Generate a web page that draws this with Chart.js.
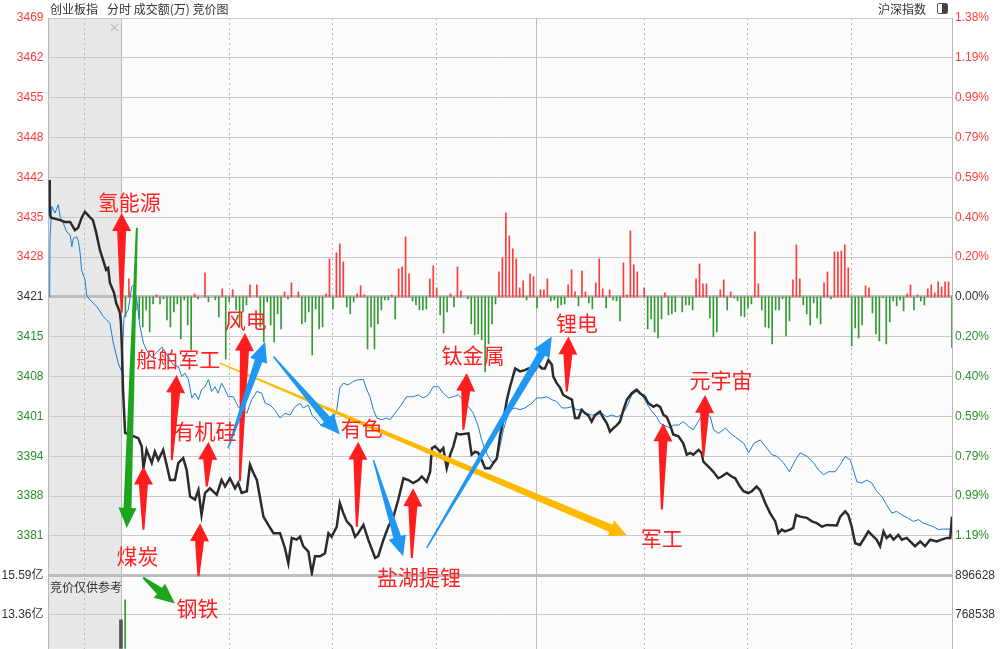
<!DOCTYPE html>
<html>
<head>
<meta charset="utf-8">
<title>创业板指 分时</title>
<script src="https://cdn.jsdelivr.net/npm/chart.js@4.4.0/dist/chart.umd.min.js"></script>
<style>
  body { margin: 0; background: #fff; overflow: hidden; }
  #wrap { position: relative; width: 1001px; height: 649px; overflow: hidden; font-family: "Noto Sans CJK SC", sans-serif; }
  #wrap canvas { position: absolute; left: 0; top: 0; }
  .lbl { position: absolute; font-size: 12px; line-height: 14px; color: #333; white-space: nowrap; }
  #toggle { position: absolute; left: 937px; top: 3px; width: 9px; height: 9px; border: 1px solid #555; border-radius: 2px; background: linear-gradient(to right, #fff 45%, #444 45%); }
</style>
</head>
<body>
<div id="wrap">
  <!-- canvas is 12px taller than the page: the axis label padding eats that much at the bottom -->
  <canvas id="chart" width="1001" height="661"></canvas>
  <div class="lbl" style="left:50px;top:2px">创业板指</div>
  <div class="lbl" style="left:107px;top:2px">分时 成交额(万) 竞价图</div>
  <div class="lbl" style="left:878px;top:2px">沪深指数</div>
  <div id="toggle"></div>
  <div class="lbl" style="left:50px;top:580px">竞价仅供参考</div>
  <div class="lbl" style="left:109px;top:20px;color:#aaa;font-size:11px">×</div>
</div>
<script>
"use strict";

// 昨收和纵轴范围
const prevClose = 3421.4;
const maxPct = 1.38;
const priceLabels = ['3469', '3462', '3455', '3448', '3442', '3435', '3428', '3421', '3415', '3408', '3401', '3394', '3388', '3381'];
const pctLabels = ['1.38%', '1.19%', '0.99%', '0.79%', '0.59%', '0.40%', '0.20%', '0.00%', '0.20%', '0.40%', '0.59%', '0.79%', '0.99%', '1.19%'];
const volValues = [15.59, 13.36];
const volLabels = ['15.59亿', '13.36亿'];
const volRValues = [896628, 768538];
const volRLabels = ['896628', '768538'];

// 分钟 (9:30 = 0, 竞价为负), 指数点位
const indexPts = [
  [-21, 3441.2], [-20.9, 3435.3], [-20.5, 3434.8], [-17.9, 3434.4], [-16.5, 3434.1], [-15, 3434.1], [-13.6, 3432.7], [-12.7, 3433.1],
  [-11.6, 3434.9], [-10.7, 3435.8], [-9.3, 3434.9], [-8.4, 3434.4], [-7.5, 3432.4], [-6.4, 3429.4], [-5.5, 3427.7], [-4.6, 3426.0],
  [-4, 3426.3], [-3.5, 3423.8], [-2.3, 3422.1], [-1.7, 3420.4], [-1.2, 3419.7], [-0.6, 3418.7], [-0.3, 3417.0], [0, 3412.4], [0.3, 3405.7],
  [0.9, 3398.4], [4.7, 3397.5], [5.7, 3396.1], [6.2, 3392.4], [7.1, 3395.5], [8.6, 3393.3], [9.5, 3395.2], [10.5, 3393.8], [11.9, 3395.5],
  [12.9, 3393.0], [13.9, 3390.4], [15.3, 3390.4], [16.3, 3393.3], [17.7, 3394.1], [18.7, 3392.1], [19.7, 3387.6], [21.1, 3387.1],
  [22.1, 3388.7], [23, 3384.5], [24, 3388.2], [25.4, 3389.0], [27.4, 3387.9], [28.8, 3390.4], [29.8, 3389.3], [31.2, 3390.7], [32.7, 3389.0],
  [33.6, 3389.9], [34.6, 3388.2], [36.1, 3388.5], [37, 3393.0], [38, 3391.6], [39, 3390.4], [40.9, 3384.2], [42.3, 3382.8], [43.8, 3381.4],
  [45.7, 3381.4], [47.1, 3378.9], [48.1, 3376.3], [49.1, 3380.6], [50.5, 3380.3], [51.5, 3380.8], [52.4, 3379.2], [53.9, 3378.3],
  [54.9, 3374.6], [55.8, 3377.5], [57.3, 3377.5], [58.7, 3378.0], [59.7, 3381.4], [60.6, 3380.8], [62.1, 3382.5], [63, 3386.5],
  [64, 3384.8], [65, 3383.4], [66.4, 3382.5], [67.4, 3380.8], [68.3, 3381.4], [69.8, 3382.8], [71.2, 3380.3], [73.2, 3377.2],
  [74.1, 3377.5], [75.6, 3380.3], [77, 3382.5], [78.5, 3384.2], [79.9, 3387.1], [81.4, 3390.7], [82.8, 3390.4], [84.2, 3389.9],
  [85.7, 3390.4], [86.7, 3391.0], [88.1, 3390.1], [89.1, 3391.8], [89.6, 3395.8], [90.5, 3396.1], [92, 3395.2], [92.9, 3395.8],
  [93.9, 3392.4], [94.9, 3394.7], [95.8, 3396.1], [96.8, 3398.3], [97.7, 3398.1], [100.2, 3398.3], [101.1, 3394.7], [102.1, 3395.2],
  [103, 3395.0], [104, 3393.8], [105, 3392.4], [106.4, 3392.4], [107.4, 3393.3], [108.4, 3394.1], [109.3, 3397.8], [110.3, 3400.6],
  [111.3, 3404.0], [112.2, 3406.2], [113.7, 3409.3], [115.1, 3408.8], [116.5, 3409.0], [117.5, 3409.3], [118.5, 3408.8], [119.4, 3409.0],
  [120.4, 3409.9], [121.4, 3409.3], [122.3, 3409.3], [123.3, 3410.7], [124.3, 3409.9], [124.7, 3407.9], [125.7, 3406.8], [126.7, 3406.0],
  [127.6, 3404.8], [129.1, 3404.3], [130.1, 3404.0], [130.5, 3402.6], [131, 3400.9], [132, 3400.9], [132.9, 3402.3], [133.9, 3401.7],
  [134.8, 3401.4], [135.8, 3400.3], [136.8, 3401.4], [138.2, 3402.0], [139.2, 3400.9], [140.2, 3400.0], [141.1, 3398.6], [142.1, 3399.2],
  [143.1, 3399.7], [144, 3400.3], [145, 3402.3], [146, 3404.0], [147.4, 3405.1], [148.8, 3405.7], [149.8, 3405.1], [151.2, 3404.5],
  [152.2, 3403.4], [153.7, 3402.8], [154.6, 3403.1], [155.6, 3402.8], [156.6, 3401.4], [157.5, 3401.1], [158.5, 3399.7], [159.4, 3398.1],
  [160.9, 3397.8], [162.3, 3396.6], [163.3, 3394.7], [164.3, 3395.0], [165.2, 3394.7], [166.7, 3395.5], [167.6, 3395.0], [168.1, 3393.5],
  [169.5, 3392.7], [171, 3391.8], [172.4, 3390.7], [173.4, 3391.0], [174.9, 3391.6], [176.3, 3391.0], [177.3, 3390.7], [178.7, 3389.3],
  [179.7, 3388.5], [181.1, 3388.2], [182.1, 3388.5], [183.5, 3389.3], [184.5, 3388.7], [186, 3386.5], [187.4, 3384.8], [188.9, 3383.4],
  [189.8, 3381.4], [190.8, 3382.0], [191.7, 3381.7], [193.2, 3382.0], [194.1, 3382.3], [194.9, 3384.5], [196.1, 3384.2], [198, 3384.0],
  [199.5, 3383.4], [200.9, 3383.1], [202.4, 3382.5], [203.8, 3382.8], [206.7, 3382.7], [207.7, 3384.2], [209.1, 3385.1], [210, 3384.5],
  [211, 3382.5], [212, 3379.7], [213.4, 3379.4], [214.9, 3380.8], [215.8, 3381.7], [216.8, 3381.1], [218.2, 3380.3], [219.2, 3379.2],
  [220.2, 3381.7], [221.1, 3380.6], [222.1, 3381.1], [223.1, 3380.3], [224.5, 3381.1], [225.5, 3380.3], [226.9, 3380.6], [227.9, 3380.0],
  [229.3, 3379.2], [230.8, 3380.0], [232.2, 3379.2], [233.7, 3380.3], [235.6, 3380.0], [237, 3380.3], [238.5, 3380.6], [239.5, 3380.6],
  [240, 3384.2]
];

// 沪深指数叠加 (按同一坐标折算)
const hsPts = [
  [-21, 3421.4], [-20.9, 3424.3], [-20.8, 3431.6], [-20.3, 3436.7], [-19.4, 3435.6], [-18.4, 3437.0], [-17.9, 3435.0], [-17, 3433.9],
  [-16, 3432.4], [-15, 3431.9], [-14.5, 3429.9], [-14.1, 3431.3], [-13.1, 3431.6], [-12.6, 3430.8], [-12.1, 3428.8], [-11.7, 3426.0],
  [-10.7, 3424.3], [-10.2, 3421.7], [-9.3, 3420.9], [-7.3, 3419.8], [-5.4, 3418.1], [-3.5, 3416.9], [-2.5, 3413.6], [-1.1, 3410.2],
  [-0.1, 3408.8], [0.6, 3418.1], [1.8, 3419.2], [2.8, 3423.1], [3.3, 3423.4], [4.3, 3420.9], [5.2, 3416.4], [6.2, 3413.6], [7.1, 3412.4],
  [8.7, 3411.1], [10.1, 3412.1], [11.6, 3412.9], [13.4, 3411.3], [14.8, 3409.9], [16.3, 3409.6], [17.3, 3407.9], [18.2, 3408.5],
  [19.2, 3407.4], [20.2, 3404.3], [21.1, 3405.1], [22.1, 3404.0], [23, 3405.7], [24, 3406.2], [25, 3407.4], [25.9, 3405.4], [26.9, 3406.2],
  [27.8, 3405.1], [28.8, 3406.8], [29.8, 3405.7], [30.7, 3404.5], [32.2, 3404.5], [33.6, 3402.8], [35.1, 3402.3], [36.1, 3401.7],
  [37.5, 3404.0], [39, 3405.4], [40.4, 3405.1], [41.4, 3403.4], [42.8, 3403.1], [44.2, 3402.3], [45.7, 3400.9], [47.1, 3401.7],
  [48.6, 3401.4], [50, 3402.8], [51.5, 3403.4], [52.4, 3402.6], [53.9, 3403.1], [54.9, 3401.4], [56.3, 3400.6], [57.8, 3399.5],
  [59.2, 3399.5], [60.6, 3400.0], [62.1, 3402.3], [63, 3406.0], [64, 3406.8], [65.4, 3406.5], [66.9, 3407.1], [68.3, 3407.4],
  [69.8, 3407.4], [70.8, 3405.7], [71.7, 3404.5], [72.7, 3402.3], [73.7, 3400.9], [75.1, 3400.6], [76.5, 3400.9], [77.5, 3400.6],
  [78.9, 3401.7], [80.4, 3402.8], [82.3, 3404.5], [84.2, 3404.5], [85.7, 3404.8], [87.1, 3404.3], [88.6, 3404.8], [90, 3406.2],
  [91.5, 3406.2], [92.9, 3405.1], [94.4, 3404.3], [95.8, 3404.5], [97.3, 3404.8], [98.7, 3404.0], [100.2, 3402.8], [101.6, 3401.7],
  [103, 3399.5], [104, 3397.2], [105, 3395.5], [105.9, 3394.4], [106.9, 3393.5], [108.4, 3393.8], [109.3, 3396.1], [110.3, 3398.9],
  [111.3, 3400.9], [112.2, 3402.3], [113.7, 3402.6], [115.1, 3402.3], [116.5, 3402.6], [118.5, 3403.4], [119.9, 3404.3], [121.4, 3404.3],
  [122.8, 3404.5], [124.3, 3404.0], [125.7, 3403.7], [127.2, 3402.6], [128.6, 3402.6], [130.1, 3402.8], [131.5, 3402.3], [132.9, 3402.3],
  [134.4, 3401.7], [135.8, 3401.4], [137.3, 3401.4], [138.7, 3401.7], [140.2, 3401.1], [141.6, 3401.4], [143.1, 3401.1], [144.5, 3401.4],
  [146, 3402.8], [147.4, 3404.8], [148.8, 3405.4], [150.3, 3404.8], [151.7, 3403.4], [153.2, 3402.0], [154.6, 3401.1], [155.6, 3400.0],
  [156.6, 3399.7], [158.5, 3399.2], [159.4, 3399.7], [160.9, 3399.7], [162.3, 3400.3], [163.8, 3399.5], [165.2, 3398.9], [167.2, 3400.9],
  [169.1, 3401.7], [170.1, 3401.1], [171.1, 3398.9], [172.5, 3398.3], [174.5, 3399.2], [175.9, 3398.3], [177.8, 3397.5], [179.8, 3396.6],
  [181.2, 3395.0], [182.7, 3396.6], [184.6, 3397.2], [186, 3396.1], [187.9, 3394.7], [189.4, 3394.4], [191.3, 3393.3], [193, 3391.8],
  [194.7, 3393.8], [196.1, 3395.0], [198.1, 3394.4], [200, 3393.3], [201.4, 3392.1], [202.9, 3391.3], [204.3, 3391.8], [206.2, 3391.8],
  [207.7, 3393.0], [209.1, 3394.4], [210.6, 3393.8], [211.5, 3392.1], [212.5, 3390.1], [213.9, 3389.9], [215.4, 3390.4], [216.8, 3389.9],
  [218.2, 3388.5], [219.7, 3387.6], [221.1, 3386.2], [222.6, 3384.8], [224, 3385.1], [225.5, 3384.5], [227.4, 3383.9], [228.8, 3383.4],
  [230.3, 3383.7], [231.7, 3383.1], [233.2, 3382.8], [234.6, 3382.5], [236.1, 3382.0], [237.5, 3382.1], [239.5, 3382.1]
];

// 每分钟红绿柱 [分钟, 值]
const diffBars = [
  [1, -20], [2, 18], [4, -13], [5, -22], [6, -30], [7, -13], [8, -35], [9, -7], [10, 2], [11, -7], [12, -2], [13, -23], [14, -30],
  [15, -15], [16, -7], [17, -42], [18, -3], [19, -28], [20, -53], [21, 3], [22, -2], [24, 24], [25, -5], [27, -3], [28, -20], [29, 8],
  [30, -62], [31, -5], [32, 7], [33, -13], [34, -30], [35, -15], [36, -8], [37, 12], [39, 12], [40, -30], [41, -45], [42, -5], [43, -28],
  [44, -45], [45, -17], [46, -32], [47, 5], [48, -2], [49, 14], [51, 5], [52, -27], [53, -25], [54, -15], [55, -58], [56, -12], [57, -32],
  [58, -30], [59, 3], [60, 38], [61, -12], [62, 44], [63, 53], [64, 35], [65, -10], [66, -17], [67, -5], [68, 3], [69, 11], [70, 2],
  [71, -52], [72, -30], [73, -52], [74, -27], [75, -13], [76, -3], [77, -3], [78, 2], [79, -22], [80, 28], [81, 30], [82, 60], [83, 23],
  [84, -4], [85, -8], [86, -13], [87, -13], [88, -12], [89, 18], [90, 31], [91, 9], [92, -18], [93, -36], [94, -15], [95, 3], [96, -10],
  [97, 30], [98, 6], [100, -2], [101, -27], [102, -38], [103, -37], [104, -43], [105, -75], [106, -47], [107, -27], [108, -7], [109, 25],
  [110, 39], [111, 84], [112, 61], [113, 48], [114, 38], [115, 9], [116, 16], [117, -3], [118, 23], [119, 20], [120, -11], [121, 7],
  [122, 7], [123, 18], [124, -4], [125, -3], [126, -11], [127, -8], [128, -7], [129, 12], [130, 27], [131, 5], [132, -9], [133, 26],
  [134, 5], [135, -6], [136, -12], [137, 14], [138, 38], [139, 8], [140, -11], [141, 7], [142, -3], [143, -4], [144, -24], [145, 34],
  [146, 2], [147, 66], [148, 32], [149, 25], [151, 9], [152, -32], [153, -22], [154, -35], [155, -41], [156, -22], [157, 4], [158, -18],
  [159, -17], [160, -15], [162, -15], [163, -8], [164, -8], [165, -13], [166, 18], [167, 33], [168, 13], [169, 13], [170, -21], [171, -40],
  [172, -35], [173, 7], [174, 17], [175, -13], [176, 5], [177, -1], [178, -4], [179, -19], [180, -20], [181, -11], [182, -7], [183, 65],
  [184, 13], [185, -13], [186, -30], [187, -31], [188, -47], [189, -13], [190, -13], [191, -2], [192, -39], [193, -24], [194, 17],
  [195, 52], [196, 18], [197, -8], [198, -17], [199, -28], [200, -6], [201, -21], [202, -27], [203, 14], [204, 25], [205, -2], [206, 45],
  [207, 45], [208, 46], [209, 52], [210, 29], [211, -49], [212, -31], [213, -41], [214, -28], [215, 11], [216, 9], [217, -16], [218, -37],
  [219, -44], [220, -1], [221, -47], [222, -25], [223, -4], [224, -9], [225, -3], [226, -14], [227, 3], [228, 12], [229, -13], [230, 2],
  [231, -4], [232, -8], [233, 8], [234, 12], [235, 4], [236, 15], [237, 10], [238, 15], [239, 15], [240, -51]
];

// 竞价量和开盘首分钟成交额 (亿)
const auctionVol = [[-0.3, 13.05]];
const openVol = [[0.9, 14.21]];

// 标注: 文字 [文字, 分钟, 点位]
const tags = [
  ['氢能源', 2.1, 3437.5], ['煤炭', 4.5, 3377.5], ['钢铁', 21.8, 3368.7], ['船舶军工', 16.3, 3410.9],
  ['有机硅', 24.0, 3398.7], ['风电', 35.8, 3417.5], ['有色', 69.3, 3399.2], ['盐湖提锂', 85.9, 3373.9],
  ['钛金属', 101.5, 3411.6], ['锂电', 131.6, 3417.0], ['军工', 156.1, 3380.6], ['元宇宙', 173.2, 3407.4]
];
// 箭头 [尾分钟, 尾点位, 头分钟, 头点位]
const redArrows = [
  [-0.1, 3418.7, -0.1, 3435.6], [6.2, 3382.0, 6.2, 3392.7], [14.4, 3393.8, 15.8, 3408.2], [24.5, 3389.3, 25.0, 3396.9],
  [22.1, 3374.1, 22.6, 3383.1], [34.1, 3390.2, 35.6, 3415.3], [67.9, 3382.5, 68.3, 3396.9], [83.8, 3377.2, 84.2, 3389.0],
  [98.7, 3398.9, 99.7, 3408.5], [128.6, 3405.4, 129.1, 3414.7], [156.1, 3385.4, 156.5, 3400.0], [168.1, 3394.4, 168.6, 3404.8]
];
const blueArrows = [
  [30.7, 3395.8, 41.4, 3413.8], [43.8, 3411.3, 63.0, 3398.1], [72.7, 3393.8, 81.3, 3377.5], [88.1, 3378.9, 124.3, 3414.7]
];
const greenArrows = [[4.3, 3433.1, 1.4, 3382.3], [6.1, 3373.9, 15.3, 3369.5]];
const yellowArrows = [[28.3, 3410.2, 145.9, 3381.1]];

const RED = '#ff3c3c';
const GREEN = '#2b8f2b';
const GRID = '#c9c9c9';
const AXIS_FONT = { family: '"Liberation Sans", "Noto Sans CJK SC"', size: 12 };

const range = prevClose * maxPct / 100;
const priceTicks = [];
const pctTicks = [];
for (let k = -7; k <= 7; k++) {
    priceTicks.push(prevClose + k * range / 7);
    pctTicks.push(k * maxPct / 7);
}
// 量能区只露出 73px, 两条刻度线相距 38.7px
const volSteps = 73 / 38.7;
const volMin = volValues[0] - (volValues[0] - volValues[1]) * volSteps;
const volRMin = volRValues[0] - (volRValues[0] - volRValues[1]) * volSteps;
const gridMinutes = [-10.7, 0, 31, 61, 91, 120, 151, 181, 211];

function sideColor(ctx) {
    if (ctx.index > 7) return RED;
    if (ctx.index === 7) return '#333';
    return GREEN;
}

function drawWedge(ctx, x1, y1, x2, y2, s) {
    const dx = x2 - x1, dy = y2 - y1;
    const len = Math.hypot(dx, dy);
    const ux = dx / len, uy = dy / len, nx = -uy, ny = ux;
    const bx = x2 - ux * s.head, by = y2 - uy * s.head;
    ctx.beginPath();
    ctx.moveTo(x1 + nx * s.tail / 2, y1 + ny * s.tail / 2);
    ctx.lineTo(bx + nx * s.shaft / 2, by + ny * s.shaft / 2);
    ctx.lineTo(bx + nx * s.headW / 2, by + ny * s.headW / 2);
    ctx.lineTo(x2, y2);
    ctx.lineTo(bx - nx * s.headW / 2, by - ny * s.headW / 2);
    ctx.lineTo(bx - nx * s.shaft / 2, by - ny * s.shaft / 2);
    ctx.lineTo(x1 - nx * s.tail / 2, y1 - ny * s.tail / 2);
    ctx.closePath();
    ctx.fillStyle = s.color;
    ctx.fill();
}

const backdrop = {
    id: 'backdrop',
    beforeDraw(chart) {
        const { ctx, chartArea: a, scales: { x } } = chart;
        ctx.save();
        ctx.fillStyle = '#fcfcfc';
        ctx.fillRect(a.left, a.top, a.width, a.height);
        ctx.fillStyle = '#e8e8e8';
        const x0 = a.left, x1 = x.getPixelForValue(0);
        ctx.fillRect(x0, a.top, x1 - x0, a.height);
        ctx.restore();
    }
};

const notes = {
    id: 'notes',
    afterDraw(chart) {
        const { ctx, scales: { x, yPrice } } = chart;
        const px = m => x.getPixelForValue(m);
        const py = p => yPrice.getPixelForValue(p);
        const styles = [
            [yellowArrows, { color: '#ffb900', head: 17, headW: 17, shaft: 8, tail: 1.5 }],
            [redArrows, { color: '#ff1e1e', head: 18, headW: 19, shaft: 9, tail: 2 }],
            [blueArrows, { color: '#1e98f2', head: 20, headW: 18, shaft: 8, tail: 1.5 }],
            [greenArrows, { color: '#1ea51e', head: 20, headW: 18, shaft: 8, tail: 2 }]
        ];
        ctx.save();
        styles.forEach(([list, style]) => {
            list.forEach(a => drawWedge(ctx, px(a[0]), py(a[1]), px(a[2]), py(a[3]), style));
        });
        ctx.font = '21px "Noto Sans CJK SC"';
        ctx.textAlign = 'center';
        ctx.textBaseline = 'middle';
        ctx.fillStyle = '#ff2222';
        tags.forEach(t => ctx.fillText(t[0], px(t[1]), py(t[2])));
        ctx.restore();
    }
};

const toPoints = list => list.map(d => ({ x: d[0], y: d[1] }));

new Chart(document.getElementById('chart'), {
    type: 'line',
    data: {
        datasets: [
            {
                label: '创业板指',
                data: toPoints(indexPts),
                yAxisID: 'yPrice',
                borderColor: '#2b2b2b',
                borderWidth: 2.5,
                pointRadius: 0,
                order: 0
            },
            {
                label: '沪深指数',
                data: toPoints(hsPts),
                yAxisID: 'yPrice',
                borderColor: '#1a7bd6',
                borderWidth: 1,
                pointRadius: 0,
                order: 1
            },
            {
                type: 'bar',
                label: '红绿柱',
                data: toPoints(diffBars),
                yAxisID: 'yBar',
                backgroundColor: diffBars.map(d => d[1] > 0 ? RED : '#339a33'),
                barThickness: 1,
                grouped: false,
                order: 5
            },
            {
                type: 'bar',
                label: '竞价量',
                data: toPoints(auctionVol),
                yAxisID: 'yVol',
                backgroundColor: '#555',
                barThickness: 3,
                grouped: false,
                order: 4
            },
            {
                type: 'bar',
                label: '成交额',
                data: toPoints(openVol),
                yAxisID: 'yVol',
                backgroundColor: '#2b9a2b',
                barThickness: 1,
                grouped: false,
                order: 4
            }
        ]
    },
    options: {
        responsive: false,
        animation: false,
        devicePixelRatio: 1,
        events: [],
        layout: { padding: { top: 18, left: 0, right: 0, bottom: 0 } },
        plugins: { legend: { display: false }, tooltip: { enabled: false } },
        scales: {
            x: {
                type: 'linear',
                min: -21.25,
                max: 240,
                offset: false,
                afterBuildTicks: s => { s.ticks = gridMinutes.map(v => ({ value: v })); },
                afterFit: s => { s.height = 0; },
                ticks: { display: false },
                border: { display: false, dash: c => (c.tick && (c.tick.value === 0 || c.tick.value === 120)) ? [] : [2, 3] },
                grid: { drawTicks: false, offset: false, color: c => (c.tick && (c.tick.value === 0 || c.tick.value === 120)) ? '#bcbcbc' : '#b8b8b8', lineWidth: 1 }
            },
            yVol: {
                type: 'linear',
                position: 'left',
                stack: 'L',
                stackWeight: 73,
                min: volMin,
                max: volValues[0],
                afterBuildTicks: s => { s.ticks = volValues.slice().reverse().map(v => ({ value: v })); },
                afterFit: s => { s.width = 48.5; },
                ticks: { callback: (v, i) => volLabels.slice().reverse()[i], color: '#333', font: AXIS_FONT, padding: 5, autoSkip: false },
                grid: { color: GRID, drawTicks: false },
                border: { color: '#b8b8b8' }
            },
            yPrice: {
                type: 'linear',
                position: 'left',
                stack: 'L',
                stackWeight: 558,
                min: priceTicks[0],
                max: priceTicks[14],
                afterBuildTicks: s => { s.ticks = priceTicks.map(v => ({ value: v })); },
                afterFit: s => { s.width = 48.5; },
                ticks: { callback: (v, i) => i === 0 ? '' : priceLabels[14 - i], color: sideColor, font: AXIS_FONT, padding: 5, autoSkip: false },
                grid: {
                    drawTicks: false,
                    color: c => (c.index === 7 || c.index === 0) ? '#bdbdbd' : GRID,
                    lineWidth: c => (c.index === 7 || c.index === 0) ? 3 : 1
                },
                border: { color: '#b8b8b8' }
            },
            yBar: {
                type: 'linear',
                position: 'left',
                display: false,
                min: -352,
                max: 279
            },
            yPct: {
                type: 'linear',
                position: 'right',
                stack: 'R',
                stackWeight: 558,
                min: -maxPct,
                max: maxPct,
                afterBuildTicks: s => { s.ticks = pctTicks.map(v => ({ value: v })); },
                afterFit: s => { s.width = 49; },
                ticks: { callback: (v, i) => i === 0 ? '' : pctLabels[14 - i], color: sideColor, font: AXIS_FONT, padding: 3, autoSkip: false },
                grid: { drawOnChartArea: false, drawTicks: false },
                border: { color: '#b8b8b8' }
            },
            yVolR: {
                type: 'linear',
                position: 'right',
                stack: 'R',
                stackWeight: 73,
                min: volRMin,
                max: volRValues[0],
                afterBuildTicks: s => { s.ticks = volRValues.slice().reverse().map(v => ({ value: v })); },
                afterFit: s => { s.width = 49; },
                ticks: { callback: (v, i) => volRLabels.slice().reverse()[i], color: '#333', font: AXIS_FONT, padding: 3, autoSkip: false },
                grid: { drawOnChartArea: false, drawTicks: false },
                border: { color: '#b8b8b8' }
            }
        }
    },
    plugins: [backdrop, notes]
});
</script>
</body>
</html>
